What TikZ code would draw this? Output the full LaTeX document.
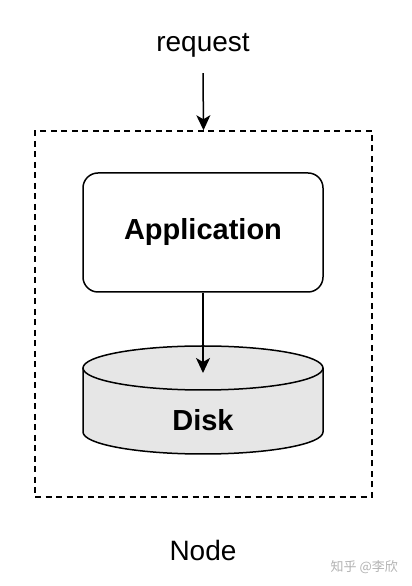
\documentclass[tikz,border=0pt]{standalone}
\usepackage{fontspec}
\setmainfont{Liberation Sans}
\newfontfamily\cjk{Noto Sans CJK SC}
\usepackage{xcolor}
\usetikzlibrary{arrows.meta,positioning,calc}

\definecolor{diskgray}{HTML}{E6E6E6}

\begin{document}
\begin{tikzpicture}[x=1pt,y=1pt,line width=1.5pt,font=\fontsize{28}{32}\selectfont,
    >={Stealth[length=15pt,width=14pt,inset=4pt]},
    hostbox/.style={draw,dashed,dash pattern=on 6pt off 4.5pt,minimum width=337pt,minimum height=366pt,inner sep=0pt},
    appbox/.style={draw,rounded corners=15pt,minimum width=240pt,minimum height=119pt,font=\fontsize{29}{32}\selectfont\bfseries}]
  \useasboundingbox (0,0) rectangle (412,586);
  % nodo e testi
  \node[hostbox] (host) at (203.5,272) {};
  \node (request) at (203,541) {request};
  \node (nodelbl) at (203,36) {Node};
  \node[appbox] (app) at (203,353.5) {Application};
  % disco
  \filldraw[fill=diskgray] (83,218)--(83,154) arc[start angle=180,end angle=360,x radius=120,y radius=22]--(323,218);
  \filldraw[fill=diskgray] (203,218) ellipse[x radius=120,y radius=22];
  \node[font=\fontsize{29}{32}\selectfont\bfseries] (disk) at (203,166) {Disk};
  \coordinate (disktop) at (203,213);
  % frecce
  \draw[->] (request.south) ++(0,-12) coordinate (reqend) (reqend)--(host.north);
  \draw[->] (app.south)--(disktop);
  % watermark
  \node[font=\cjk\fontsize{13}{15}\selectfont,text=gray!60,anchor=east] (mark) at (402,19) {知乎 @李欣};
\end{tikzpicture}
\end{document}
